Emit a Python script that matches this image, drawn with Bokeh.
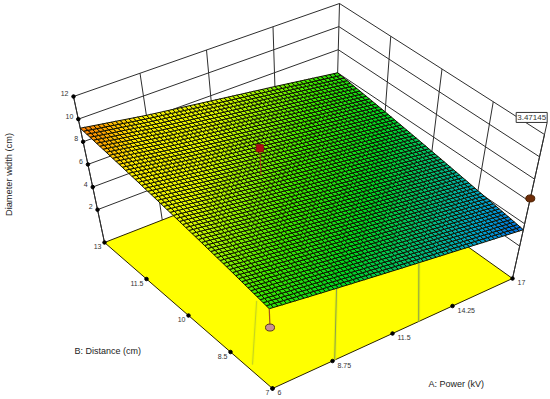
import numpy as np
from bokeh.plotting import figure
from bokeh.models import ColumnDataSource
from bokeh.embed import file_html
from bokeh.resources import INLINE

# ---- data ----
a_ticks = [6, 8.75, 11.5, 14.25, 17]
b_ticks = [7, 8.5, 10, 11.5, 13]
z_ticks = [2, 4, 6, 8, 10, 12]
a_labels = ["6", "8.75", "11.5", "14.25", "17"]
b_labels = ["7", "8.5", "10", "11.5", "13"]
z_labels = ["2", "4", "6", "8", "10", "12"]
z_floor = -0.9
# response surface, rows = b_ticks, columns = a_ticks
z_table = [
    [6.10, 5.45, 4.80, 4.15, 3.47],
    [6.88, 6.20, 5.50, 4.80, 4.10],
    [7.65, 6.90, 6.15, 5.45, 4.75],
    [8.43, 7.60, 6.85, 6.10, 5.40],
    [9.20, 8.30, 7.55, 6.80, 6.00],
]
pred_value = "3.47145"
pt_high_a, pt_high_b, pt_high_z, pt_high_base = 10.5, 10.7, 8.8, 6.4
pt_low_a, pt_low_b, pt_low_z = 6, 7, 4.45
pt_side_a, pt_side_b, pt_side_z = 17, 7, 6.27
tag_z = 13.08

# ---- the picture's box: where its eight corners lie on the page ----
box_floor = {(0, 1): (104, 242), (0, 0): (272, 388), (1, 0): (512, 278), (1, 1): (335, 152)}
box_top = {(0, 1): (73, 96), (0, 0): (266, 241), (1, 0): (544, 134), (1, 1): (339, 3)}


def proj(a, b, z):
    s = (np.asarray(a, float) - a_ticks[0]) / (a_ticks[-1] - a_ticks[0])
    t = (np.asarray(b, float) - b_ticks[0]) / (b_ticks[-1] - b_ticks[0])
    h = (np.asarray(z, float) - z_floor) / (z_ticks[-1] - z_floor)
    out = []
    for k in range(2):
        c = 0
        for i, si in ((0, 1 - s), (1, s)):
            for j, tj in ((0, 1 - t), (1, t)):
                c = c + si * tj * ((1 - h) * box_floor[(i, j)][k] + h * box_top[(i, j)][k])
        out.append(c)
    return out


def seg(p, a, b, z, **kw):
    x, y = proj(a, b, z)
    p.line(list(x), list(y), **kw)


p = figure(width=550, height=399, x_range=(0, 550), y_range=(399, 0),
           output_backend="svg", toolbar_location=None, min_border=0,
           outline_line_color=None, x_axis_location=None, y_axis_location=None)
p.grid.visible = False
p.background_fill_color = "white"
p.border_fill_color = "white"

A0, A1 = a_ticks[0], a_ticks[-1]
B0, B1 = b_ticks[0], b_ticks[-1]
Ztop = z_ticks[-1]
wall = dict(line_color="#2e2e2e", line_width=1)

# back walls
for z in z_ticks:
    seg(p, [A0, A1, A1], [B1, B1, B0], [z, z, z], **wall)
for a in a_ticks[:-1]:
    seg(p, [a, a], [B1, B1], [z_floor, Ztop], **wall)
for b in b_ticks[:-1]:
    seg(p, [A1, A1], [b, b], [z_floor, Ztop], **wall)
seg(p, [A1, A1], [B1, B1], [z_floor, Ztop], **wall)
seg(p, [A0, A0], [B1, B1], [z_floor, Ztop], **wall)
seg(p, [A1, A1], [B0, B0], [z_floor, tag_z], **wall)

# floor
fx, fy = proj([A0, A0, A1, A1], [B1, B0, B0, B1], [z_floor] * 4)
p.patch(list(fx), list(fy), fill_color="#ffff00", line_color="#2a2200", line_width=1)

# pale lines standing on the floor
for a0, b0, z0, a1, b1, z1, alp in [(6, 7.7, -0.3, 6, 7.42, 5.9, 0.45),
                                    (8.85, 7, z_floor, 8.85, 7, 5.5, 1.0),
                                    (12.7, 7, z_floor, 12.4, 7, 4.5, 1.0)]:
    seg(p, [a0, a1], [b0, b1], [z0, z1], line_color="#d8f000", line_width=3, line_alpha=0.6 * alp)
    seg(p, [a0, a1], [b0, b1], [z0, z1], line_color="#8f9f50", line_width=1, line_alpha=alp)

# surface mesh
N = 60
tab = np.array(z_table)


def surf(a, b):
    i = np.clip(np.searchsorted(a_ticks, a, side="right") - 1, 0, len(a_ticks) - 2)
    j = np.clip(np.searchsorted(b_ticks, b, side="right") - 1, 0, len(b_ticks) - 2)
    s = (a - a_ticks[i]) / (a_ticks[i + 1] - a_ticks[i])
    t = (b - b_ticks[j]) / (b_ticks[j + 1] - b_ticks[j])
    return ((1 - s) * (1 - t) * tab[j, i] + s * (1 - t) * tab[j, i + 1]
            + (1 - s) * t * tab[j + 1, i] + s * t * tab[j + 1, i + 1])


ramp_stops = [(3.47, (0, 110, 230)), (4.0, (0, 165, 205)), (4.6, (0, 190, 125)),
              (5.4, (0, 215, 35)), (6.3, (60, 235, 0)), (7.5, (225, 250, 0)),
              (8.4, (255, 240, 0)), (9.2, (255, 120, 0))]


def ramp(z):
    for (t0, c0), (t1, c1) in zip(ramp_stops, ramp_stops[1:]):
        if z <= t1:
            f = max(0.0, (z - t0) / (t1 - t0))
            return "#%02x%02x%02x" % tuple(int(c0[k] + f * (c1[k] - c0[k])) for k in range(3))
    return "#ff7800"


ga = np.linspace(A0, A1, N + 1)
gb = np.linspace(B0, B1, N + 1)
xs, ys, cols = [], [], []
for i in range(N):
    for j in range(N):
        qa = [ga[i], ga[i + 1], ga[i + 1], ga[i]]
        qb = [gb[j], gb[j], gb[j + 1], gb[j + 1]]
        qz = [surf(u, v) for u, v in zip(qa, qb)]
        x, y = proj(qa, qb, qz)
        xs.append(list(x))
        ys.append(list(y))
        cols.append(ramp(float(np.mean(qz))))
p.patches("xs", "ys", source=ColumnDataSource(dict(xs=xs, ys=ys, c=cols)),
          fill_color="c", line_color="#101000", line_width=1)

# stems and design points
seg(p, [pt_high_a] * 2, [pt_high_b] * 2, [pt_high_base, pt_high_z], line_color="#c8301a", line_width=1, line_alpha=0.7)
hx, hy = proj(pt_high_a, pt_high_b, pt_high_z)
p.scatter([float(hx)], [float(hy)], marker="square", size=7, fill_color="#b00d14", line_color="#8c1010")
seg(p, [pt_low_a] * 2, [pt_low_b] * 2, [pt_low_z, z_table[0][0]], line_color="#a8501e", line_width=1.2)
lx, ly = proj(pt_low_a, pt_low_b, pt_low_z)
p.ellipse([float(lx)], [float(ly)], width=9, height=7, fill_color="#c89090", line_color="#5a3a20")
sx, sy = proj(pt_side_a, pt_side_b, pt_side_z)
p.ellipse([float(sx)], [float(sy)], width=9, height=7, fill_color="#6e2c08", line_color="#4a2000")

# ticks
txt = dict(text_font={"value": "Liberation Sans"}, text_font_size="7px", text_color="#333333")
zx, zy = proj([A0] * len(z_ticks), [B1] * len(z_ticks), z_ticks)
p.scatter(list(zx), list(zy), size=3.5, fill_color="black", line_color="black")
p.text(list(zx), list(zy), z_labels, text_align="right", text_baseline="middle",
       x_offset=-5, y_offset=-3, **txt)
ax, ay = proj(a_ticks, [B0] * 5, [z_floor] * 5)
p.scatter(list(ax), list(ay), size=3.5, fill_color="black", line_color="black")
p.text(list(ax), list(ay), a_labels, text_align="left", text_baseline="middle",
       x_offset=5, y_offset=4, **txt)
bx, by = proj([A0] * 5, b_ticks, [z_floor] * 5)
p.scatter(list(bx), list(by), size=3.5, fill_color="black", line_color="black")
p.text(list(bx), list(by), b_labels, text_align="right", text_baseline="middle",
       x_offset=-3, y_offset=4, **txt)

# value tag
tx, ty = proj(pt_side_a, pt_side_b, tag_z)
tag_txt = dict(txt, text_font_size="8px")
p.rect([float(tx) - 15.5], [float(ty) - 5], width=31, height=10, fill_color="white", line_color="#333333")
p.text([float(tx) - 15.5], [float(ty) - 5], [pred_value], text_align="center", text_baseline="middle", **tag_txt)

# axis titles
ttl = dict(text_font={"value": "Liberation Sans"}, text_font_size="9px", text_color="#222222",
           text_baseline="middle")
p.text([8], [174], ["Diameter width (cm)"], text_align="center", angle=np.pi / 2,
       **dict(ttl, text_font_size="9.3px"))
p.text([74], [350], ["B: Distance (cm)"], text_align="left", **ttl)
p.text([428], [383], ["A: Power (kV)"], text_align="left", **ttl)

open("out.html", "w").write(file_html(p, INLINE))
